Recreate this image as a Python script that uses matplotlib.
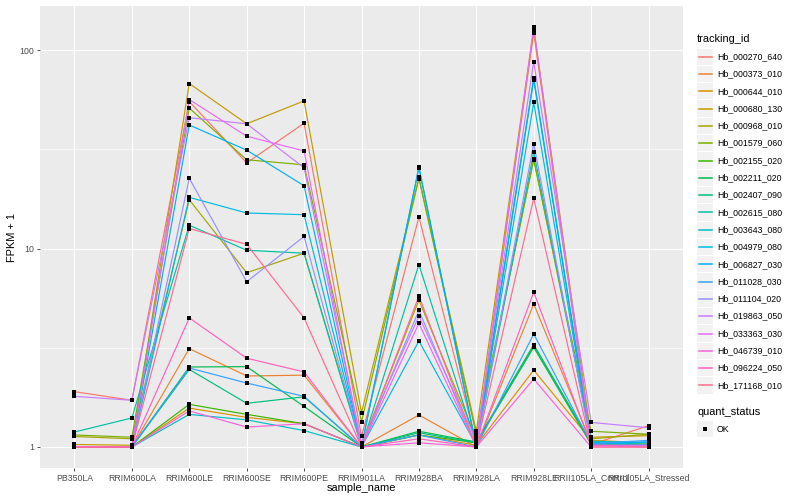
import numpy as np
import matplotlib
matplotlib.use("Agg")
import matplotlib.pyplot as plt
from matplotlib.patches import Rectangle
from matplotlib.lines import Line2D
from matplotlib.ticker import FixedLocator, NullFormatter

plt.rcParams['font.family'] = ['Liberation Sans', 'DejaVu Sans']

W, H = 800, 500

samples = ["PB350LA", "RRIM600LA", "RRIM600LE", "RRIM600SE", "RRIM600PE",
           "RRIM901LA", "RRIM928BA", "RRIM928LA", "RRIM928LE",
           "RRII105LA_Control", "RRII105LA_Stressed"]

tracking_ids = ["Hb_000270_640", "Hb_000373_010", "Hb_000644_010", "Hb_000680_130",
                "Hb_000968_010", "Hb_001579_060", "Hb_002155_020", "Hb_002211_020",
                "Hb_002407_090", "Hb_002615_080", "Hb_003643_080", "Hb_004979_080",
                "Hb_006827_030", "Hb_011028_030", "Hb_011104_020", "Hb_019863_050",
                "Hb_033363_030", "Hb_046739_010", "Hb_096224_050", "Hb_171168_010"]

# ggplot hue palette, 20 levels
colors = ["#F8766D", "#EA8331", "#D89000", "#C09B00", "#A3A500", "#7CAE00", "#39B600",
          "#00BB4E", "#00BF7D", "#00C1A3", "#00BFC4", "#00BAE0", "#00B0F6", "#35A2FF",
          "#9590FF", "#C77CFF", "#E76BF3", "#FA62DB", "#FF62BC", "#FF6C91"]

# FPKM + 1 per sample
hb_000270_640 = [1.90, 1.72, 55.0, 27.0, 42.8, 1.13, 14.4, 1.05, 122.0, 1.03, 1.28]
hb_000373_010 = [1.00, 1.00, 3.13, 2.28, 2.30, 1.00, 1.45, 1.00, 5.25, 1.05, 1.03]
hb_000644_010 = [1.00, 1.00, 1.57, 1.41, 1.31, 1.00, 1.15, 1.02, 2.44, 1.08, 1.05]
hb_000680_130 = [1.03, 1.02, 67.8, 42.5, 55.4, 1.49, 22.8, 1.20, 128.0, 1.12, 1.14]
hb_000968_010 = [1.13, 1.10, 17.6, 7.55, 9.47, 1.02, 5.50, 1.10, 28.3, 1.10, 1.16]
hb_001579_060 = [1.15, 1.12, 51.0, 28.0, 26.4, 1.34, 22.5, 1.15, 28.0, 1.20, 1.16]
hb_002155_020 = [1.00, 1.00, 1.64, 1.46, 1.31, 1.00, 1.15, 1.05, 3.18, 1.03, 1.02]
hb_002211_020 = [1.00, 1.00, 2.53, 2.54, 1.60, 1.00, 1.20, 1.06, 3.28, 1.05, 1.03]
hb_002407_090 = [1.00, 1.00, 2.46, 1.66, 1.79, 1.00, 1.18, 1.05, 3.20, 1.04, 1.02]
hb_002615_080 = [1.19, 1.40, 13.1, 9.80, 9.47, 1.00, 8.30, 1.03, 72.5, 1.06, 1.03]
hb_003643_080 = [1.00, 1.00, 1.46, 1.37, 1.21, 1.00, 25.5, 1.00, 30.7, 1.07, 1.05]
hb_004979_080 = [1.00, 1.00, 18.1, 15.1, 14.8, 1.00, 3.42, 1.02, 54.4, 1.05, 1.06]
hb_006827_030 = [1.00, 1.00, 41.9, 31.3, 20.7, 1.00, 25.8, 1.00, 70.6, 1.03, 1.06]
hb_011028_030 = [1.00, 1.00, 2.50, 2.10, 1.80, 1.00, 1.15, 1.00, 3.71, 1.04, 1.08]
hb_011104_020 = [1.00, 1.00, 22.6, 6.80, 11.5, 1.00, 4.88, 1.00, 33.8, 1.02, 1.02]
hb_019863_050 = [1.80, 1.72, 45.6, 42.5, 25.5, 1.05, 4.56, 1.08, 87.3, 1.33, 1.25]
hb_033363_030 = [1.00, 1.00, 56.3, 36.8, 31.0, 1.00, 4.20, 1.00, 130.6, 1.02, 1.02]
hb_046739_010 = [1.00, 1.00, 1.52, 1.26, 1.31, 1.00, 1.05, 1.00, 2.20, 1.00, 1.00]
hb_096224_050 = [1.00, 1.00, 4.47, 2.80, 2.39, 1.00, 1.10, 1.00, 6.03, 1.02, 1.00]
hb_171168_010 = [1.00, 1.00, 12.6, 10.5, 4.47, 1.00, 5.76, 1.00, 17.9, 1.00, 1.00]

series = [hb_000270_640, hb_000373_010, hb_000644_010, hb_000680_130, hb_000968_010,
          hb_001579_060, hb_002155_020, hb_002211_020, hb_002407_090, hb_002615_080,
          hb_003643_080, hb_004979_080, hb_006827_030, hb_011028_030, hb_011104_020,
          hb_019863_050, hb_033363_030, hb_046739_010, hb_096224_050, hb_171168_010]


def fx(px):
    return px / W


def fy(py):
    return 1 - py / H


fig = plt.figure(figsize=(8, 5), dpi=100)
fig.patch.set_facecolor('white')

# panel in pixels: left 40, right 683, top 6, bottom 468
ax = fig.add_axes([fx(40), fy(468), (683 - 40) / W, (468 - 6) / H])
ax.set_facecolor('#EBEBEB')

x = np.arange(len(samples))
for vals, col in zip(series, colors):
    ax.plot(x, vals, color=col, lw=0.85, zorder=2)
for vals in series:
    ax.plot(x, vals, 's', color='black', ms=2.6, mew=0, zorder=3)

ax.set_yscale('log')
allv = np.log10(np.concatenate([np.array(s) for s in series]))
lo, hi = allv.min(), allv.max()
pad = 0.05 * (hi - lo)
ax.set_ylim(10 ** (lo - pad), 10 ** (hi + pad))
ax.set_xlim(-0.6, len(samples) - 1 + 0.6)

ax.set_yticks([1, 10, 100])
ax.set_yticklabels(['1', '10', '100'])
ax.yaxis.set_minor_locator(FixedLocator([10 ** 0.5, 10 ** 1.5]))
ax.yaxis.set_minor_formatter(NullFormatter())
ax.set_xticks(x)
ax.set_xticklabels(samples)

ax.tick_params(which='major', length=2.5, width=0.6, color='#333333',
               labelsize=6.3, labelcolor='#4D4D4D', pad=1.5)
ax.tick_params(which='minor', length=0)
ax.grid(which='major', color='white', lw=0.8)
ax.grid(which='minor', axis='y', color='white', lw=0.4)
ax.set_axisbelow(True)
for s in ax.spines.values():
    s.set_visible(False)

fig.text(fx(361), fy(488), 'sample_name', fontsize=7.9, ha='center', va='center')
fig.text(fx(12), fy(237), 'FPKM + 1', fontsize=7.9, ha='center', va='center', rotation=90)

# legend: tracking_id
fig.text(fx(697), fy(39), 'tracking_id', fontsize=7.9, ha='left', va='center')
key = 17.3
y0 = 56.7
for i, (tid, col) in enumerate(zip(tracking_ids, colors)):
    yc = y0 + i * key
    fig.add_artist(Rectangle((fx(697), fy(yc + key / 2 - 0.5)), (key - 1) / W, (key - 1) / H,
                             transform=fig.transFigure, facecolor='#F2F2F2', edgecolor='none'))
    fig.add_artist(Line2D([fx(699), fx(712)], [fy(yc), fy(yc)], transform=fig.transFigure,
                          color=col, lw=1.1))
    fig.text(fx(717), fy(yc), tid, fontsize=6.3, ha='left', va='center')

# legend: quant_status
fig.text(fx(697), fy(412), 'quant_status', fontsize=7.9, ha='left', va='center')
yc = 429
fig.add_artist(Rectangle((fx(697), fy(yc + key / 2 - 0.5)), (key - 1) / W, (key - 1) / H,
                         transform=fig.transFigure, facecolor='#F2F2F2', edgecolor='none'))
fig.add_artist(Line2D([fx(705)], [fy(yc)], transform=fig.transFigure, marker='s',
                      color='black', ms=2.6, mew=0, lw=0))
fig.text(fx(717), fy(yc), 'OK', fontsize=6.3, ha='left', va='center')

fig.savefig('out.png', dpi=100)
